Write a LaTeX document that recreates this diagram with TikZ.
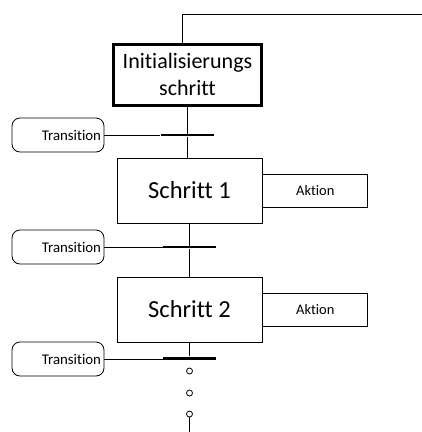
\documentclass[tikz,border=0pt]{standalone}
\usepackage{fontspec}
\setmainfont{Carlito}[Ligatures={NoCommon,NoRequired,NoContextual}]
\begin{document}
\begin{tikzpicture}[x=1pt,y=-1pt,
  line width=0.8pt,
  stepbox/.style={draw, rectangle, minimum width=145pt, minimum height=65pt,
    inner sep=0pt, font=\fontsize{24.5}{28}\selectfont},
  initbox/.style={draw, rectangle, line width=3pt, minimum width=148pt,
    minimum height=61pt, inner sep=0pt, align=center,
    font=\fontsize{22}{26.5}\selectfont},
  actbox/.style={draw, rectangle, minimum width=105pt, minimum height=33pt,
    inner sep=0pt, font=\fontsize{14.5}{17}\selectfont},
  transbox/.style={draw, rectangle, rounded corners=8pt, minimum width=92pt,
    minimum height=34pt, inner xsep=3pt, inner ysep=0pt, text width=86pt,
    align=right, font=\fontsize{14.8}{17}\selectfont},
  barline/.style={fill=black, rectangle, inner sep=0pt, minimum width=53pt,
    minimum height=#1},
  barline/.default=2.2pt,
  dotnode/.style={draw, circle, inner sep=0pt, minimum size=6pt, line width=0.8pt}
]
\useasboundingbox (0,0) rectangle (422,432);

% initial step and feedback line
\node[initbox] (init) at (187.5,74.5) {Initialisierungs\\schritt};
\coordinate (top) at (182.5,14);
\coordinate (back) at (422,14);
\draw (init.north -| top) -- (top) -- (back);

% first transition and step
\node[barline] (b1) at (187,135) {};
\node[transbox] (t1) at (58,135) {Transition};
\node[stepbox] (s1) at (189.5,190.5) {Schritt 1};
\node[actbox, anchor=west] (a1) at (s1.east) {Aktion};
\draw (init.south) -- (init.south |- b1);
\draw (b1) -- (b1 |- s1.north);
\draw (t1.east) -- (b1.west);

% second transition and step
\node[barline] (b2) at (189.5,247) {};
\node[transbox] (t2) at (58,247) {Transition};
\node[stepbox] (s2) at (189.5,309.5) {Schritt 2};
\node[actbox, anchor=west] (a2) at (s2.east) {Aktion};
\draw (s1.south) -- (b2);
\draw (b2) -- (s2.north);
\draw (t2.east) -- (b2.west);

% third transition and continuation
\node[barline=3pt] (b3) at (189.5,358) {};
\node[transbox] (t3) at (58,359) {Transition};
\draw (s2.south) -- (b3);
\draw (t3.east) -- (t3.east -| b3.west);
\node[dotnode] (c1) at (189.5,371) {};
\node[dotnode] (c2) at (189.5,393) {};
\node[dotnode] (c3) at (189.5,414) {};
\coordinate (bottom) at (189.5,432);
\draw (c3.south) -- (bottom);
\end{tikzpicture}
\end{document}
